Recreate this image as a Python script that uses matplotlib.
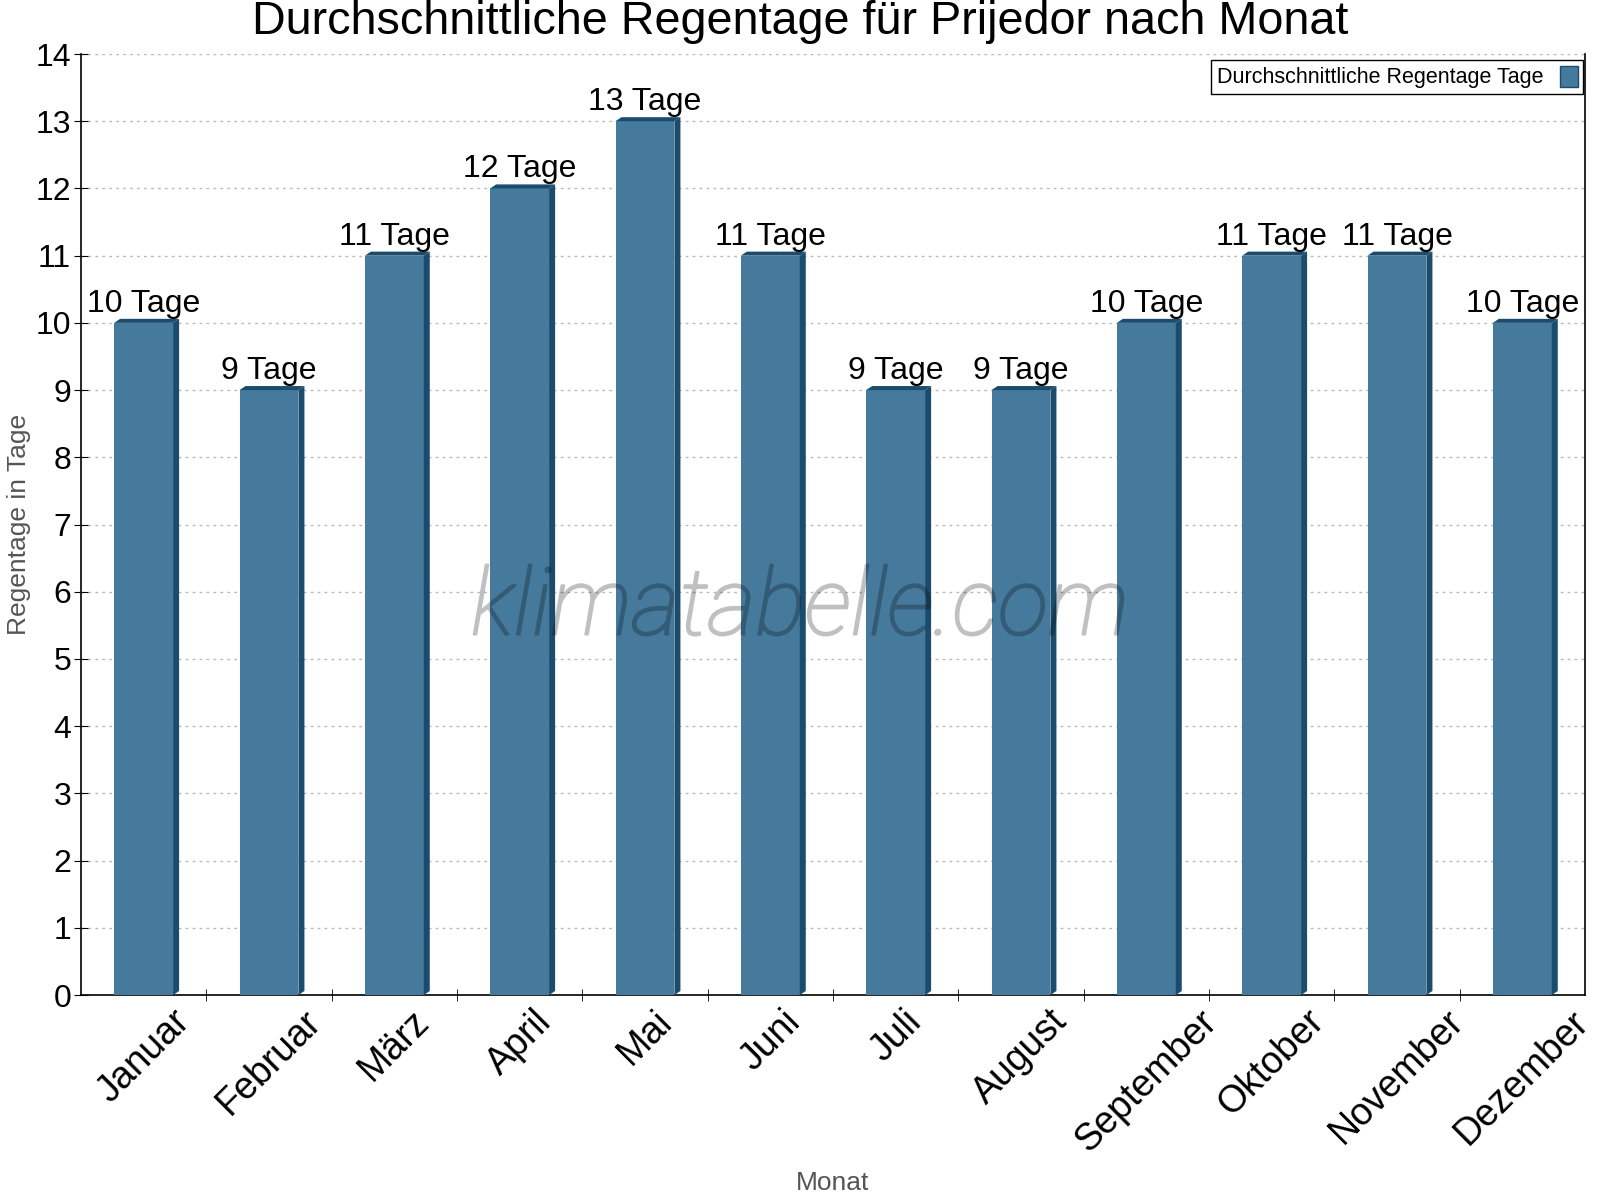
import matplotlib.pyplot as plt
import matplotlib.patheffects as pe
from matplotlib.patches import Polygon, Patch

plt.rcParams['font.family'] = ['Liberation Sans', 'DejaVu Sans']

monate = ['Januar', 'Februar', 'März', 'April', 'Mai', 'Juni', 'Juli', 'August',
          'September', 'Oktober', 'November', 'Dezember']
regentage = [10, 9, 11, 12, 13, 11, 9, 9, 10, 11, 11, 10]

front = '#467a9c'
dark = '#1b4b6d'

fig = plt.figure(figsize=[16, 12], dpi=100)
ax = fig.add_axes([0.0506, 0.1708, 0.94, 0.7842])

w = 0.47
dx = 0.048
dy = 0.06
x = list(range(len(monate)))
ax.bar(x, regentage, width=w, color=front, zorder=3)
for xi, h in zip(x, regentage):
    x1 = xi + w / 2
    x0 = xi - w / 2
    ax.add_patch(Polygon([(x1, 0), (x1 + dx, dy), (x1 + dx, h + dy), (x1, h)],
                         closed=True, color=dark, zorder=3, lw=0))
    ax.add_patch(Polygon([(x0, h), (x0 + dx, h + dy), (x1 + dx, h + dy), (x1, h)],
                         closed=True, color=dark, zorder=3, lw=0))
    ax.text(xi, h + dy, f'{h} Tage', ha='center', va='bottom', fontsize=23, zorder=5)

ax.set_xlim(-0.5, len(monate) - 0.5)
ax.set_ylim(0, 14)
ax.set_yticks(range(0, 15))
ax.tick_params(axis='y', labelsize=23, length=10, direction='inout', pad=2)
ax.set_xticks(x)
ax.set_xticklabels(monate, rotation=45, ha='center', fontsize=27)
ax.tick_params(axis='x', length=0, pad=6)
ax.set_xticks([i + 0.5 for i in x[:-1]], minor=True)
ax.tick_params(axis='x', which='minor', length=8, direction='inout')

ax.grid(True, axis='y', linestyle=(0, (2, 3)), color='#bbbbbb', linewidth=1, zorder=0)
ax.spines['top'].set_visible(False)
for s in ['left', 'bottom', 'right']:
    ax.spines[s].set_color('black')
    ax.spines[s].set_linewidth(1.2)

ax.set_xlabel('Monat', fontsize=19, color='#555555')
ax.xaxis.set_label_coords(0.5, -0.187)
ax.set_ylabel('Regentage in Tage', fontsize=19, color='#555555')
ax.yaxis.set_label_coords(-0.033, 0.5)

fig.text(0.5, 0.982, 'Durchschnittliche Regentage für Prijedor nach Monat',
         ha='center', va='center', fontsize=33.7)


def fade(img, dpi):
    img = img.copy()
    img[..., 3] *= 0.25
    return img, 0, 0


wm = ax.text(0.478, 0.41, 'klimatabelle.com', transform=ax.transAxes, ha='center', va='center',
             fontsize=67, style='italic', family='Roboto', fontweight='light',
             color='black', zorder=6)
wm.set_path_effects([pe.Stroke(linewidth=1.6, foreground='black'), pe.Normal()])
wm.set_agg_filter(fade)

leg = ax.legend(handles=[Patch(facecolor=front, edgecolor=dark, label='Durchschnittliche Regentage Tage')],
                loc='upper right', bbox_to_anchor=(1.003, 1.0), markerfirst=False,
                fontsize=15.5, fancybox=False, framealpha=1, edgecolor='black',
                handlelength=0.8, handleheight=1.1, borderpad=0.25, borderaxespad=0.3)
leg.get_frame().set_linewidth(1)

fig.savefig('out.png', dpi=100)
